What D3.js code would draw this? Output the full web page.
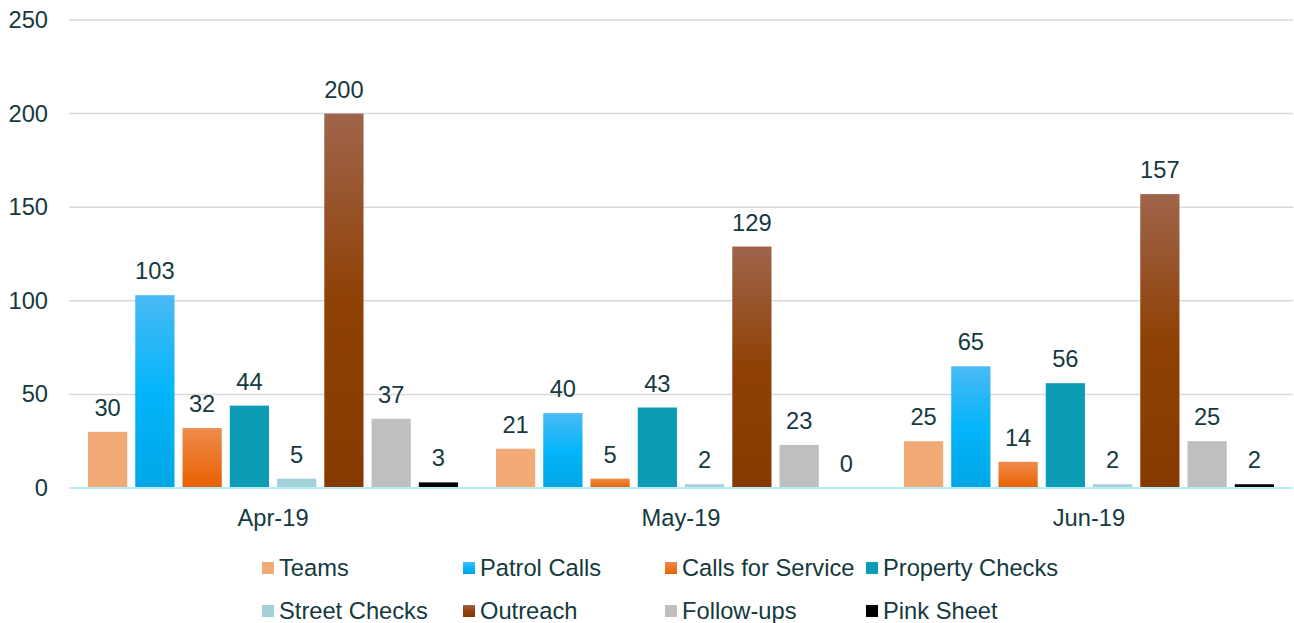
<!DOCTYPE html>
<html>
<head>
<meta charset="utf-8">
<script src="https://cdn.jsdelivr.net/npm/d3@7"></script>
<style>
  body { margin: 0; background: #fff; }
  text { font-family: "Liberation Sans", Arial, sans-serif; fill: #143a3e; }
</style>
</head>
<body>
<div id="svg-container"></div>
<script>
// Chart data
const months = ["Apr-19", "May-19", "Jun-19"];
const seriesNames = ["Teams", "Patrol Calls", "Calls for Service", "Property Checks",
  "Street Checks", "Outreach", "Follow-ups", "Pink Sheet"];
const teams = [30, 21, 25];
const patrolCalls = [103, 40, 65];
const callsForService = [32, 5, 14];
const propertyChecks = [44, 43, 56];
const streetChecks = [5, 2, 2];
const outreach = [200, 129, 157];
const followUps = [37, 23, 25];
const pinkSheet = [3, 0, 2];
const yTicks = [0, 50, 100, 150, 200, 250];

const seriesValues = [teams, patrolCalls, callsForService, propertyChecks,
  streetChecks, outreach, followUps, pinkSheet];

// fill styles: [top, bottom] for gradient, or flat colour
const fills = [
  ["#f2ab76", "#f2ab76"],
  ["#4abaf4", "#00a6e6"],
  ["#ef8b4c", "#e86000"],
  ["#0d9cb6", "#0d9cb6"],
  ["#a4d1d9", "#a4d1d9"],
  ["#9f644b", "#873a00"],
  ["#bfbfbf", "#bfbfbf"],
  ["#000000", "#000000"]
];

const width = 1294, height = 623;
const margin = { top: 20, right: 1, bottom: 135, left: 69 };
const fontSize = 23.7;

const svg = d3.select("#svg-container").append("svg")
  .attr("width", width).attr("height", height);

const defs = svg.append("defs");
fills.forEach((f, i) => {
  const g = defs.append("linearGradient").attr("id", `grad-${i}`)
    .attr("x1", 0).attr("y1", 0).attr("x2", 0).attr("y2", 1);
  g.append("stop").attr("offset", "0%").attr("stop-color", f[0]);
  if (i === 1) g.append("stop").attr("offset", "50%").attr("stop-color", "#03b5fa");
  if (i === 5) g.append("stop").attr("offset", "50%").attr("stop-color", "#8f4105");
  g.append("stop").attr("offset", "100%").attr("stop-color", f[1]);
});

// Scales
const x0 = d3.scaleBand()
  .domain(months)
  .range([margin.left, width - margin.right])
  .paddingInner(0.093)
  .paddingOuter(0.0466);
const x1 = d3.scaleBand()
  .domain(seriesNames)
  .range([0, x0.bandwidth()])
  .paddingInner(0.17);
const y = d3.scaleLinear().domain([0, 250]).range([height - margin.bottom, margin.top]);

// Gridlines
svg.append("g")
  .selectAll("line")
  .data(yTicks.filter(d => d > 0))
  .join("line")
  .attr("x1", margin.left).attr("x2", width - margin.right)
  .attr("y1", d => y(d)).attr("y2", d => y(d))
  .attr("stroke", "#d9d9d9").attr("stroke-width", 1.5);

// Y axis labels
const yAxis = d3.axisLeft(y).tickValues(yTicks).tickSize(0).tickPadding(21);
svg.append("g")
  .attr("class", "y-axis")
  .attr("transform", `translate(${margin.left},0)`)
  .call(yAxis)
  .call(g => g.select(".domain").remove())
  .selectAll("text")
  .attr("font-size", fontSize)
  .attr("font-family", "Liberation Sans, Arial, sans-serif")
  .attr("fill", "#143a3e");

// Bars
const groups = svg.append("g").selectAll("g")
  .data(months)
  .join("g")
  .attr("transform", d => `translate(${x0(d)},0)`);

groups.each(function (month, mi) {
  const rows = seriesNames.map((name, si) => ({ name, si, value: seriesValues[si][mi] }));
  const g = d3.select(this);
  g.selectAll("rect")
    .data(rows)
    .join("rect")
    .attr("x", d => x1(d.name))
    .attr("y", d => y(d.value))
    .attr("width", x1.bandwidth())
    .attr("height", d => y(0) - y(d.value))
    .attr("fill", d => `url(#grad-${d.si})`);
  g.selectAll("text")
    .data(rows)
    .join("text")
    .attr("x", d => x1(d.name) + x1.bandwidth() / 2)
    .attr("y", d => y(d.value) - 16)
    .attr("text-anchor", "middle")
    .attr("font-size", fontSize)
    .text(d => d.value);
});

// X axis baseline and labels
const xAxis = d3.axisBottom(x0).tickSize(0).tickPadding(21);
svg.append("g")
  .attr("class", "x-axis")
  .attr("transform", `translate(0,${y(0)})`)
  .call(xAxis)
  .call(g => g.select(".domain").remove())
  .selectAll("text")
  .attr("font-size", fontSize)
  .attr("font-family", "Liberation Sans, Arial, sans-serif")
  .attr("fill", "#143a3e");

svg.append("line")
  .attr("x1", margin.left).attr("x2", width - margin.right)
  .attr("y1", y(0)).attr("y2", y(0))
  .attr("stroke", "#b5eef6").attr("stroke-width", 2);

// Legend
const legendCols = [262, 463, 665, 866];
const legendRows = [568, 611];
const legend = svg.append("g").selectAll("g")
  .data(seriesNames)
  .join("g")
  .attr("transform", (d, i) => `translate(${legendCols[i % 4]},${legendRows[Math.floor(i / 4)]})`);
legend.append("rect")
  .attr("x", 0).attr("y", -6).attr("width", 12).attr("height", 12)
  .attr("fill", (d, i) => `url(#grad-${i})`);
legend.append("text")
  .attr("x", 17).attr("y", 8)
  .attr("font-size", fontSize)
  .text(d => d);
</script>
</body>
</html>
